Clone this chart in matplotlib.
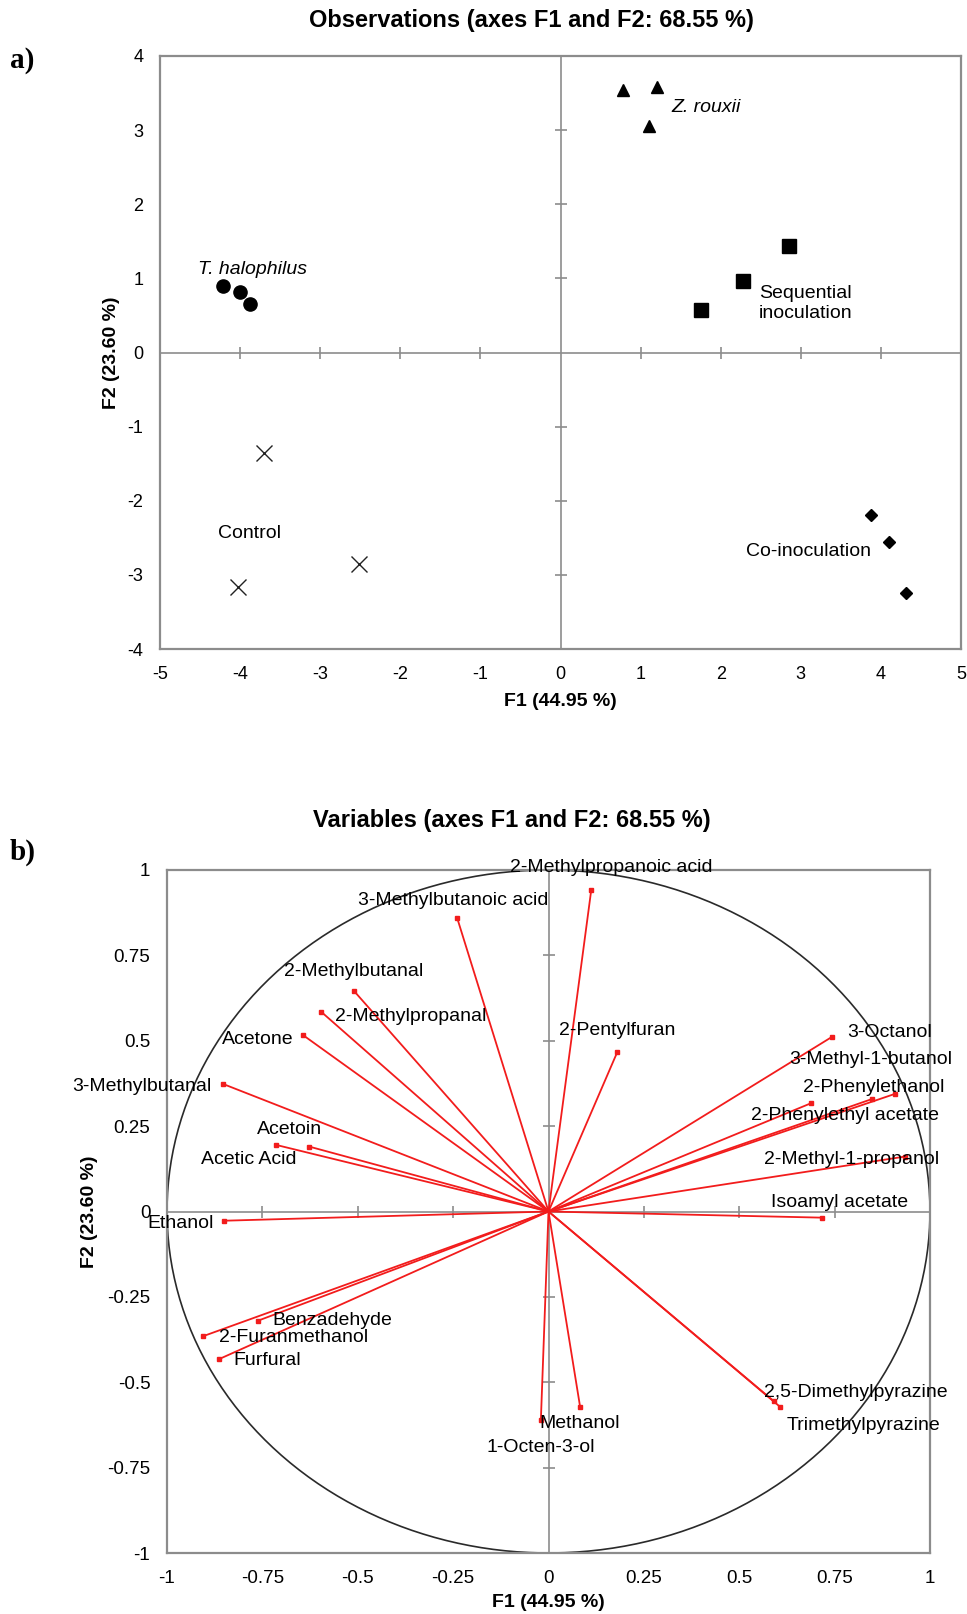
import numpy as np
import matplotlib
matplotlib.use("Agg")
import matplotlib.pyplot as plt
from matplotlib.ticker import FixedLocator, FuncFormatter

plt.rcParams["font.family"] = ["Liberation Sans", "DejaVu Sans"]

# ---------------- Observations (F1/F2 scores) ----------------
groups = ["T. halophilus", "Z. rouxii", "Sequential\ninoculation", "Control", "Co-inoculation"]
obs_f1 = {
    "T. halophilus": [-4.21, -4.00, -3.88],
    "Z. rouxii": [0.78, 1.21, 1.10],
    "Sequential\ninoculation": [2.85, 2.28, 1.76],
    "Control": [-3.70, -2.51, -4.02],
    "Co-inoculation": [3.88, 4.10, 4.31],
}
obs_f2 = {
    "T. halophilus": [0.90, 0.82, 0.66],
    "Z. rouxii": [3.54, 3.58, 3.06],
    "Sequential\ninoculation": [1.44, 0.97, 0.57],
    "Control": [-1.35, -2.85, -3.17],
    "Co-inoculation": [-2.19, -2.56, -3.24],
}
group_label_xy = {
    "T. halophilus": (-4.52, 1.12),
    "Z. rouxii": (1.38, 3.31),
    "Sequential\ninoculation": (2.48, 0.66),
    "Control": (-4.28, -2.44),
    "Co-inoculation": (2.31, -2.69),
}
obs_ticks_x = [-5, -4, -3, -2, -1, 0, 1, 2, 3, 4, 5]
obs_ticks_y = [-4, -3, -2, -1, 0, 1, 2, 3, 4]

# ---------------- Variables (loadings on F1/F2) ----------------
var_names = [
    "2-Methylpropanoic acid", "3-Methylbutanoic acid", "2-Methylbutanal",
    "2-Methylpropanal", "Acetone", "3-Methylbutanal", "Acetoin", "Acetic Acid",
    "Ethanol", "Benzadehyde", "2-Furanmethanol", "Furfural", "2-Pentylfuran",
    "3-Octanol", "3-Methyl-1-butanol", "2-Phenylethanol", "2-Phenylethyl acetate",
    "2-Methyl-1-propanol", "Isoamyl acetate", "Methanol", "1-Octen-3-ol",
    "2,5-Dimethylpyrazine", "Trimethylpyrazine",
]
var_f1 = [0.112, -0.239, -0.510, -0.596, -0.644, -0.852, -0.627, -0.714,
          -0.850, -0.762, -0.905, -0.863, 0.180,
          0.744, 0.847, 0.907, 0.688,
          0.935, 0.717, 0.083, -0.020,
          0.590, 0.607]
var_f2 = [0.941, 0.858, 0.646, 0.585, 0.517, 0.373, 0.190, 0.195,
          -0.027, -0.320, -0.365, -0.432, 0.466,
          0.512, 0.329, 0.344, 0.317,
          0.161, -0.018, -0.573, -0.611,
          -0.555, -0.572]
# where each variable name sits (left edge, vertical centre)
var_label_x = [-0.101, -0.499, -0.693, -0.559, -0.855, -1.249, -0.765, -0.911,
               -1.051, -0.723, -0.865, -0.827, 0.027,
               0.782, 0.632, 0.666, 0.530,
               0.565, 0.584, -0.025, -0.163,
               0.566, 0.623]
var_label_y = [1.006, 0.912, 0.703, 0.571, 0.504, 0.366, 0.239, 0.151,
               -0.035, -0.318, -0.369, -0.437, 0.529,
               0.525, 0.444, 0.364, 0.280,
               0.153, 0.027, -0.622, -0.690,
               -0.531, -0.628]
var_ticks = [-1, -0.75, -0.5, -0.25, 0, 0.25, 0.5, 0.75, 1]

FRAME = "#8c8c8c"
RED = "#f21c1c"

fig = plt.figure(figsize=(9.67, 16.14), dpi=100)
W, H = 967, 1614


def frame_axes(ax, ticks_x, ticks_y, fmt, tick_fs, tick_mark):
    for s in ax.spines.values():
        s.set_color(FRAME)
        s.set_linewidth(1.6)
    ax.xaxis.set_major_locator(FixedLocator(ticks_x))
    ax.yaxis.set_major_locator(FixedLocator(ticks_y))
    ax.xaxis.set_major_formatter(FuncFormatter(fmt))
    ax.yaxis.set_major_formatter(FuncFormatter(fmt))
    ax.tick_params(length=0, labelsize=tick_fs, pad=12)
    # zero axes with tick marks crossing them
    ax.axhline(0, color=FRAME, lw=1.2, zorder=1)
    ax.axvline(0, color=FRAME, lw=1.2, zorder=1)
    tx = [t for t in ticks_x if t != 0]
    ty = [t for t in ticks_y if t != 0]
    ax.plot(tx, np.zeros(len(tx)), ls="none", marker="|", ms=tick_mark,
            mew=1.2, color=FRAME, zorder=1, clip_on=False)
    ax.plot(np.zeros(len(ty)), ty, ls="none", marker="_", ms=tick_mark,
            mew=1.2, color=FRAME, zorder=1, clip_on=False)


# ---------------- panel a ----------------
ax1 = fig.add_axes([160 / W, 1 - 649 / H, 801 / W, 593 / H])
ax1.set_xlim(-5, 5)
ax1.set_ylim(-4, 4)
frame_axes(ax1, obs_ticks_x, obs_ticks_y, lambda v, p: f"{v:g}", 13, 8)

styles = {
    "T. halophilus": dict(marker="o", ms=9.5, color="black", ls="none"),
    "Z. rouxii": dict(marker="^", ms=8, color="black", ls="none"),
    "Sequential\ninoculation": dict(marker="s", ms=10, color="black", ls="none"),
    "Control": dict(marker="x", ms=11, mew=1.0, color="#222222", ls="none"),
    "Co-inoculation": dict(marker="D", ms=6.5, color="black", ls="none"),
}
for g in groups:
    ax1.plot(obs_f1[g], obs_f2[g], zorder=3, **styles[g])
    lx, ly = group_label_xy[g]
    italic = g in ("T. halophilus", "Z. rouxii")
    ax1.text(lx, ly, g, fontsize=14, ha="left", va="center",
             style="italic" if italic else "normal", linespacing=1.25)

ax1.set_xlabel("F1 (44.95 %)", fontsize=14, fontweight="bold")
ax1.set_ylabel("F2 (23.60 %)", fontsize=14, fontweight="bold")
ax1.xaxis.set_label_coords(0.5, -0.089)
ax1.xaxis.label.set_va("center")
ax1.yaxis.set_label_coords(-0.061, 0.5)
ax1.yaxis.label.set_va("center")

fig.text(531 / W, 1 - 21 / H, "Observations (axes F1 and F2: 68.55 %)",
         fontsize=17, fontweight="bold", ha="center", va="center")
fig.text(10 / W, 1 - 60 / H, "a)", fontsize=21, fontweight="bold",
         family=["Liberation Serif", "DejaVu Serif"], ha="left", va="center")

# ---------------- panel b ----------------
ax2 = fig.add_axes([167 / W, 1 - 1553 / H, 763 / W, 683 / H])
ax2.set_xlim(-1, 1)
ax2.set_ylim(-1, 1)
frame_axes(ax2, var_ticks, var_ticks, lambda v, p: f"{v:g}", 13.5, 9)

theta = np.linspace(0, 2 * np.pi, 400)
ax2.plot(np.cos(theta), np.sin(theta), color="#2a2a2a", lw=1.2, zorder=2)

for name, x, y, tx, ty in zip(var_names, var_f1, var_f2, var_label_x, var_label_y):
    ax2.plot([0, x], [0, y], color=RED, lw=1.3, zorder=3)
    ax2.plot([x], [y], ls="none", marker="s", ms=3, color=RED, zorder=4)
    ax2.text(tx, ty, name, fontsize=14, ha="left", va="center", zorder=5,
             clip_on=False)

ax2.set_xlabel("F1 (44.95 %)", fontsize=14, fontweight="bold")
ax2.set_ylabel("F2 (23.60 %)", fontsize=14, fontweight="bold")
ax2.xaxis.set_label_coords(0.5, -0.073)
ax2.xaxis.label.set_va("center")
ax2.yaxis.set_label_coords(-0.101, 0.5)
ax2.yaxis.label.set_va("center")

fig.text(512 / W, 1 - 820 / H, "Variables (axes F1 and F2: 68.55 %)",
         fontsize=17, fontweight="bold", ha="center", va="center")
fig.text(10 / W, 1 - 852 / H, "b)", fontsize=21, fontweight="bold",
         family=["Liberation Serif", "DejaVu Serif"], ha="left", va="center")

fig.savefig("out.png", dpi=100)
